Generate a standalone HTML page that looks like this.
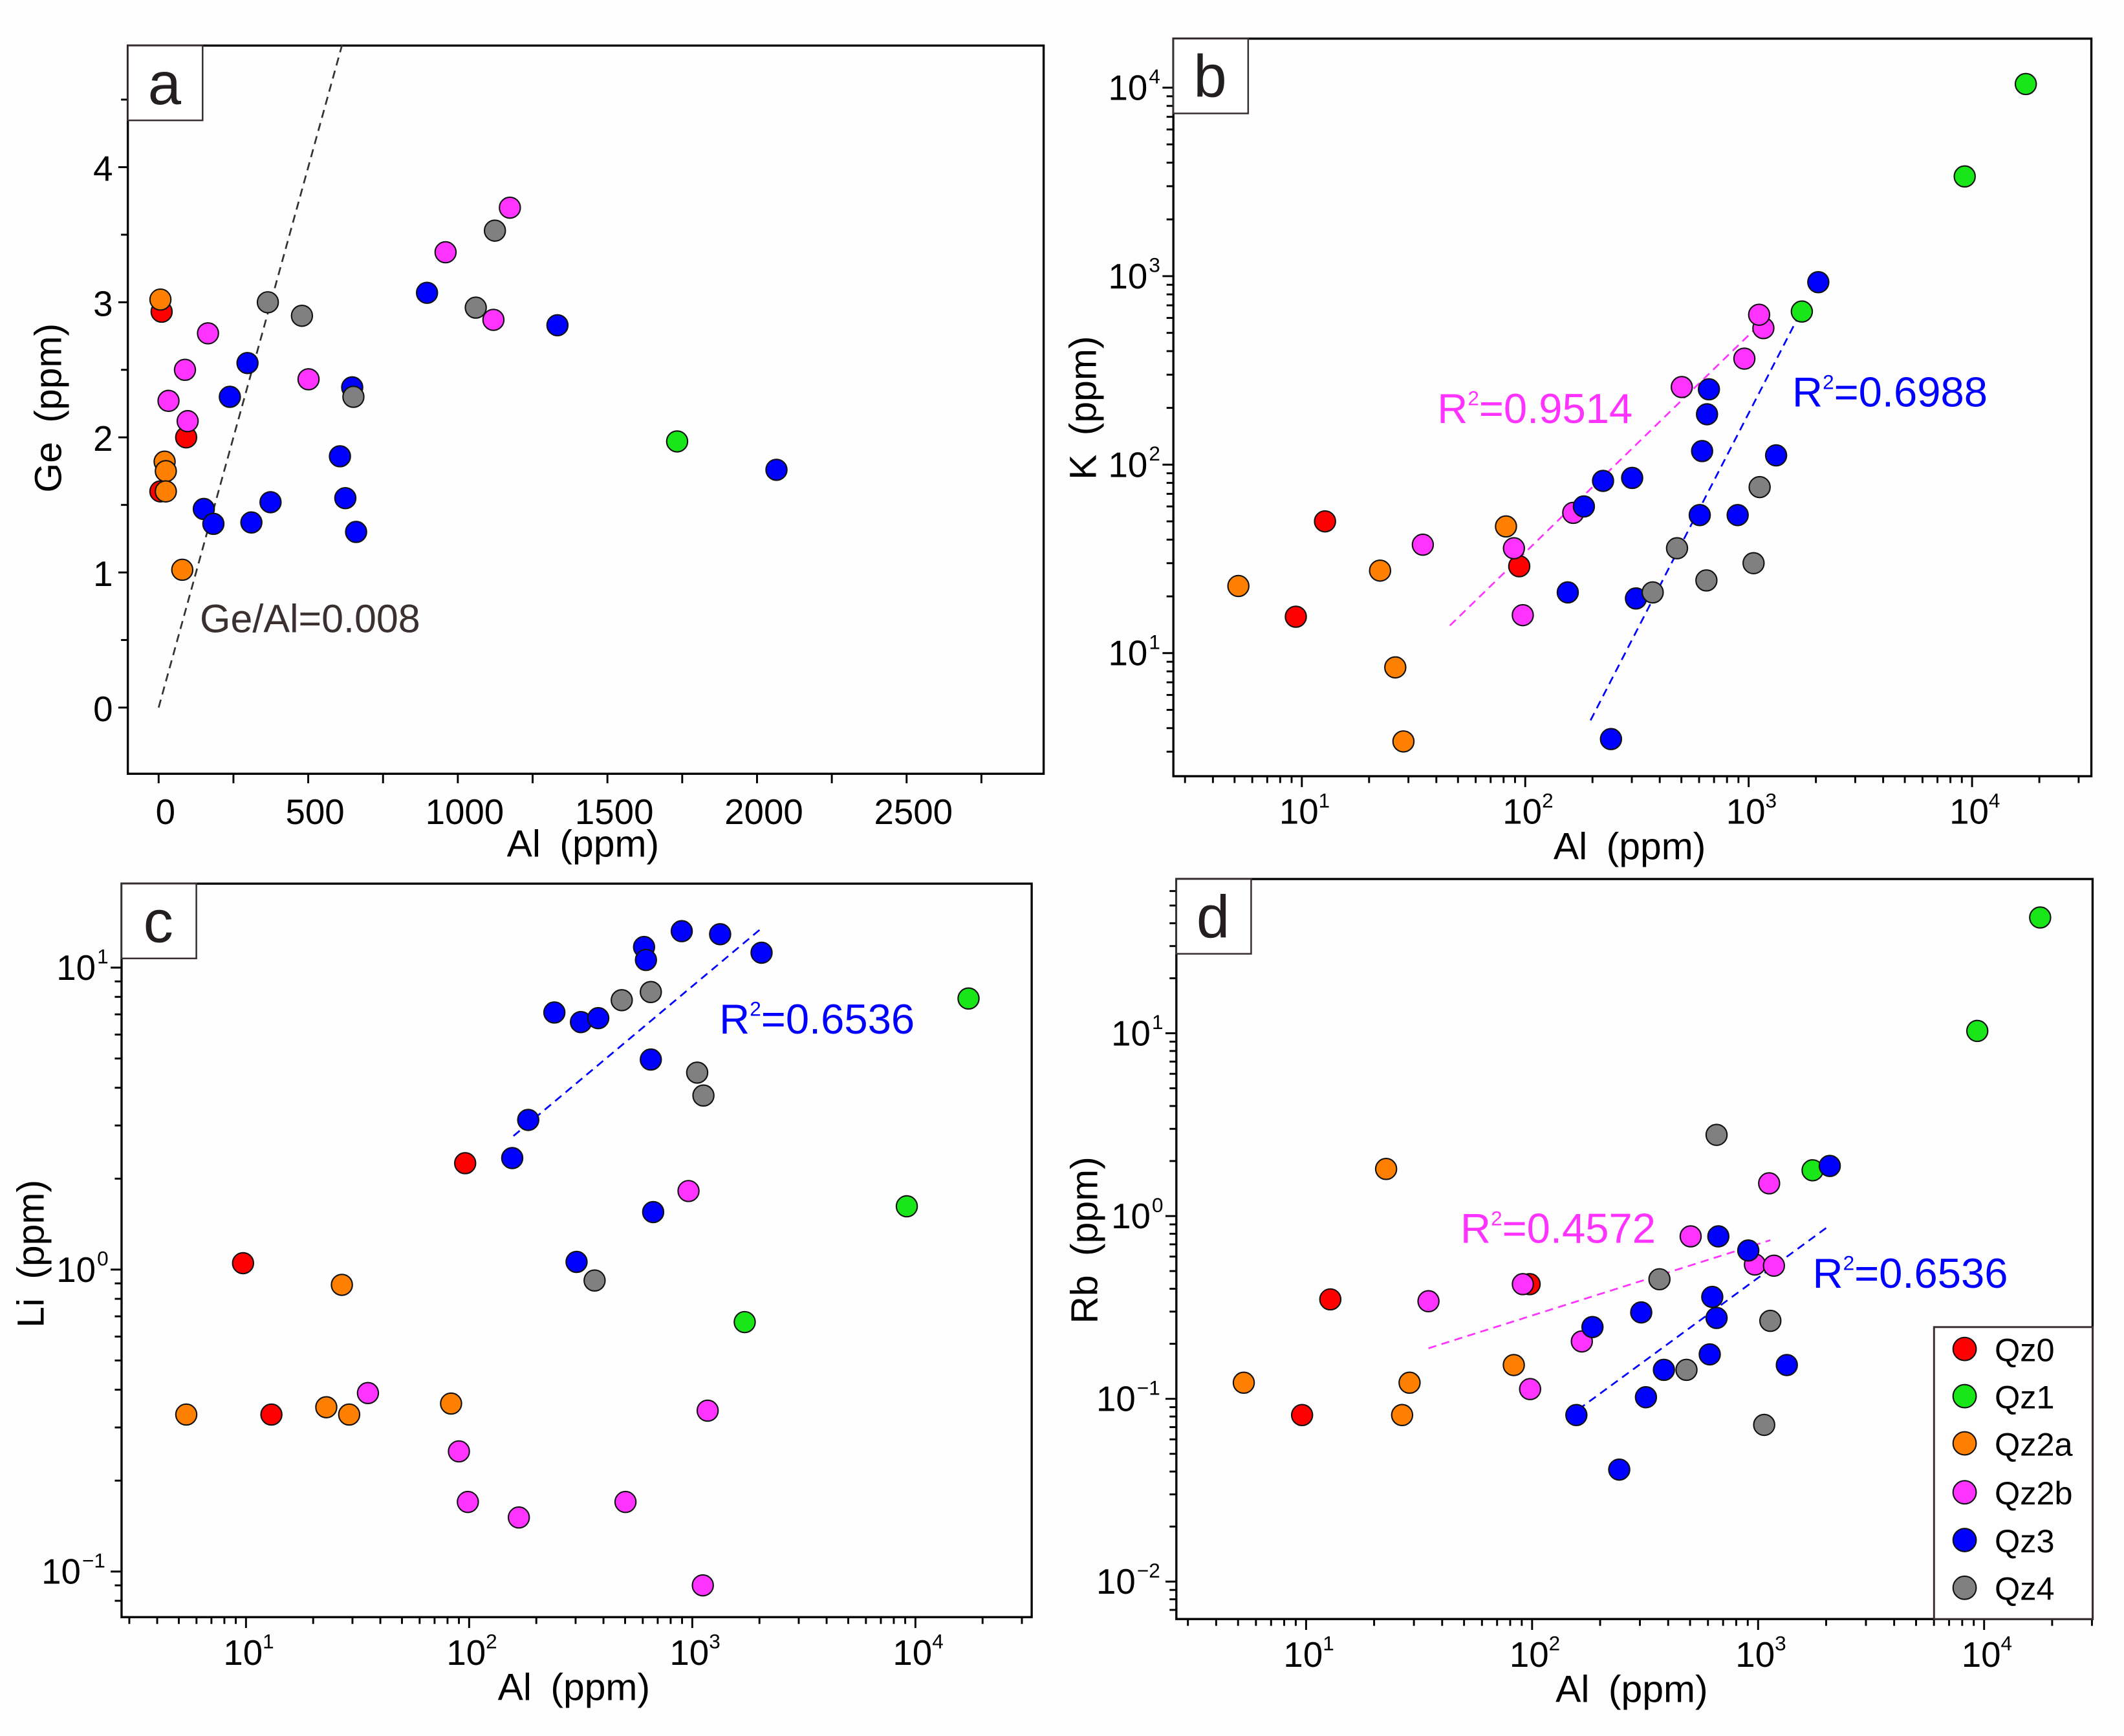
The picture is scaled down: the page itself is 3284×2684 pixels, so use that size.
<!DOCTYPE html>
<html><head><meta charset="utf-8"><style>
html,body{margin:0;padding:0;background:#fff;}
svg{display:block;}
text{font-family:"Liberation Sans",Arial,sans-serif;}
</style></head><body>
<svg id="fig" xmlns="http://www.w3.org/2000/svg" width="3284" height="2684" viewBox="0 0 1562 1276.6">
<rect x="0" y="0" width="1562" height="1276.6" fill="#fefefe"/>
</svg>
<script>
// ---------- data ----------
const groups = ["Qz0","Qz1","Qz2a","Qz2b","Qz3","Qz4"];
const groupColors = ["#ff0000","#19e619","#ff8000","#ff33ff","#0000ff","#808080"];

// Panel a: Al vs Ge (linear)
const aAl = {Qz0:[10,92,6], Qz1:[1733], Qz2a:[6,20,24,24,79],
  Qz2b:[165,88,33,97,501,959,1174,1119],
  Qz3:[297,238,151,183,310,374,606,624,660,647,897,1333,2065],
  Qz4:[365,479,651,1060,1124]};
const aGe = {Qz0:[2.93,2.0,1.6], Qz1:[1.97], Qz2a:[3.02,1.82,1.75,1.6,1.02],
  Qz2b:[2.77,2.5,2.27,2.12,2.43,3.37,3.7,2.87],
  Qz3:[2.55,2.3,1.47,1.36,1.37,1.52,1.86,1.55,1.3,2.37,3.07,2.83,1.76],
  Qz4:[3.0,2.9,2.3,2.96,3.53]};

// Panel b: Al vs K (log)
const bAl = {Qz0:[12.7,9.4,94], Qz1:[1730,9270,17400], Qz2a:[5.2,22.4,82,26.2,28.5],
  Qz2b:[34.8,89,97.5,164,502,957,1164,1114],
  Qz3:[155,183,223,301,313,242,604,619,651,664,893,1327,2050],
  Qz4:[372,478,647,1052,1120]};
const bK = {Qz0:[50,15.6,28.9], Qz1:[649,3380,10450], Qz2a:[22.7,27.4,47,8.4,3.4],
  Qz2b:[37.6,36,15.9,55.5,258,365,530,624],
  Qz3:[21,60,82,85,19.5,3.5,54,118,185,251,54,112,929],
  Qz4:[21,36,24.3,30,76]};

// Panel c: Al vs Li (log)
const cAl = {Qz0:[96,9.7,13], Qz1:[1718,9150,17300], Qz2a:[5.4,22.9,29,26.9,83],
  Qz2b:[35.2,90,98.7,167,502,962,1172,1115],
  Qz3:[241,317,379,608,620,897,1333,2044,652,184,156,668,303],
  Qz4:[483,652,1052,1122,365]};
const cLi = {Qz0:[2.25,1.05,0.331], Qz1:[0.67,1.62,7.9], Qz2a:[0.331,0.35,0.331,0.89,0.36],
  Qz2b:[0.39,0.25,0.17,0.151,0.17,1.82,0.341,0.09],
  Qz3:[7.1,6.6,6.8,11.7,10.6,13.2,12.9,11.2,4.96,3.13,2.34,1.55,1.06],
  Qz4:[7.8,8.3,4.49,3.77,0.92]};

// Panel d: Al vs Rb (log)
const dAl = {Qz0:[97.5,12.8,9.6], Qz1:[17700,9330,1742], Qz2a:[22.6,5.3,28.7,83,26.6],
  Qz2b:[1119,503,968,1175,91,34.8,166,98],
  Qz3:[2075,667,905,627,655,304,185,611,383,1340,319,157,243],
  Qz4:[655,366,1133,482,1064]};
const dRb = {Qz0:[0.424,0.35,0.0815], Qz1:[43,10.3,1.78], Qz2a:[1.81,0.1225,0.1225,0.153,0.0815],
  Qz2b:[1.51,0.774,0.543,0.535,0.424,0.342,0.206,0.113],
  Qz3:[1.88,0.774,0.648,0.361,0.277,0.297,0.247,0.175,0.144,0.153,0.102,0.0815,0.041],
  Qz4:[2.78,0.451,0.267,0.144,0.072]};

// Fit lines [x1,y1,x2,y2]
const aRefLine = [0,0,615,4.92];
const bFitMagenta = [46,14,1135,562];
const bFitBlue = [196,4.4,1766,693];
const cFitBlue = [158,2.77,2044,13.5];
const dFitMagenta = [34.8,0.189,1133,0.738];
const dFitBlue = [160,0.0873,2089,0.895];

const aXTicks = [0,500,1000,1500,2000,2500];
const aYTicks = [0,1,2,3,4];

// ---------- drawing helpers ----------
const NS = "http://www.w3.org/2000/svg";
const svg = document.getElementById("fig");
function mk(tag, attrs, parent){
  const e = document.createElementNS(NS, tag);
  for (const k in attrs) e.setAttribute(k, attrs[k]);
  (parent||svg).appendChild(e);
  return e;
}
function makePanel(p){
  const g = mk("g", {});
  
  
  const xs = v => { const t = p.xlog ? Math.log10(v) : v; return p.L + (t - p.x0)/(p.x1 - p.x0)*(p.R - p.L); };
  const ys = v => { const t = p.ylog ? Math.log10(v) : v; return p.B - (t - p.y0)/(p.y1 - p.y0)*(p.B - p.T); };
  p.xs = xs; p.ys = ys; p.g = g;
  const frame = mk("rect", {x:p.L, y:p.T, width:p.R-p.L, height:p.B-p.T, fill:"none", stroke:"#000", "stroke-width":1.6}, g);
  
  
  const axg = mk("g", {}, g);
  
  
  // x ticks
  if (p.xlog){
    for (let k = Math.floor(p.x0); k <= Math.ceil(p.x1); k++){
      for (let m = 1; m <= 9; m++){
        const lv = k + Math.log10(m);
        if (lv < p.x0 || lv > p.x1) continue;
        const x = xs(Math.pow(10, lv));
        mk("line", {x1:x, x2:x, y1:p.B, y2:p.B + (m===1?8:5), stroke:"#000", "stroke-width":1.4}, axg);
        if (m===1){
          const t = mk("text", {x:x+2, y:p.B+35, "font-size":26, "text-anchor":"middle"}, axg);
          
          
          t.textContent = "10";
          const s = mk("tspan", {dy:-12, "font-size":15}, t); s.textContent = String(k);
        }
      }
    }
  } else {
    for (let v = 0; v <= p.x1; v += 250){
      const x = xs(v);
      mk("line", {x1:x, x2:x, y1:p.B, y2:p.B + 7, stroke:"#000", "stroke-width":1.4}, axg);
    }
    aXTicks.forEach(v => {
      const t = mk("text", {x:xs(v)+5, y:p.B+37, "font-size":26, "text-anchor":"middle"}, axg);
      
      
      t.textContent = String(v);
    });
  }
  // y ticks
  if (p.ylog){
    for (let k = Math.floor(p.y0); k <= Math.ceil(p.y1); k++){
      for (let m = 1; m <= 9; m++){
        const lv = k + Math.log10(m);
        if (lv < p.y0 || lv > p.y1) continue;
        const y = ys(Math.pow(10, lv));
        mk("line", {x1:p.L, x2:p.L - (m===1?8:5), y1:y, y2:y, stroke:"#000", "stroke-width":1.4}, axg);
        if (m===1){
          const supW = k<0 ? 20 : 9;
          const t = mk("text", {x:p.L-10-supW, y:y+9, "font-size":26, "text-anchor":"end"}, axg);
          
          
          t.textContent = "10";
          const s = mk("tspan", {x:p.L-9-supW, dy:-12, "font-size":15, "text-anchor":"start"}, t); s.textContent = k<0 ? "\u2212"+(-k) : String(k);
        }
      }
    }
  } else {
    for (let v = 0; v <= p.y1; v += 0.5){
      const y = ys(v);
      mk("line", {x1:p.L, x2:p.L - (v%1===0?7:5), y1:y, y2:y, stroke:"#000", "stroke-width":1.4}, axg);
    }
    aYTicks.forEach(v => {
      const t = mk("text", {x:p.L-11, y:ys(v)+10, "font-size":26, "text-anchor":"end"}, axg);
      
      
      t.textContent = String(v);
    });
  }
  // titles
  const xt = mk("text", {x:(p.L+p.R)/2 - 2, y:p.B+61, "font-size":28, "text-anchor":"middle"}, g);
  
  
  xt.textContent = "Al\u2002(ppm)";
  const yt = mk("text", {x:0, y:0, "font-size":28, "text-anchor":"middle", transform:`translate(${p.yTitleX},${p.yTitleY}) rotate(-90)`}, g);
  
  
  yt.textContent = p.ytitle + "\u2002(ppm)";
  // panel letter
  const lb = mk("rect", {x:p.L, y:p.T, width:55, height:55, fill:"#fff", stroke:"#3a3030", "stroke-width":1.2}, g);
  
  
  const lt = mk("text", {x:p.L+27, y:p.T+43, "font-size":44, "text-anchor":"middle", fill:"#231f20"}, g);
  
  
  lt.textContent = p.id;
  return p;
}
function line(p, arr, color, name, dash){
  const l = mk("line", {x1:p.xs(arr[0]), y1:p.ys(arr[1]), x2:p.xs(arr[2]), y2:p.ys(arr[3]), stroke:color, "stroke-width":1.3, "stroke-dasharray":dash||"6,4"}, p.g);
  
  
}
function label(p, x, y, txt, val, color, name, size){
  const t = mk("text", {x:x, y:y, "font-size":size||31, fill:color}, p.g);
  
  
  t.textContent = txt;
  if (val !== null){
    const s = mk("tspan", {dy:-13, "font-size":15}, t); s.textContent = "2";
    const s2 = mk("tspan", {dy:13}, t); s2.textContent = val;
  }
}
function points(p, X, Y){
  groups.forEach((gname, gi) => {
    const gg = mk("g", {}, p.g);
    
    
    X[gname].forEach((xv, i) => {
      const c = mk("circle", {cx:p.xs(xv), cy:p.ys(Y[gname][i]), r:7.7, fill:groupColors[gi], stroke:"#111", "stroke-width":1}, gg);
      
      
    });
  });
}

// ---------- panels ----------
const pa = makePanel({id:"a", L:94, T:33.5, R:767.5, B:569, xlog:false, x0:-103, x1:2958, ylog:false, y0:-0.49, y1:4.9, ytitle:"Ge", yTitleX:45, yTitleY:300});
line(pa, aRefLine, "#333", "ge-al-reference-line", "6,4");
label(pa, 147, 465, "Ge/Al=0.008", null, "#3a3030", "ge-al-ratio-label", 29);
points(pa, aAl, aGe);

const pb = makePanel({id:"b", L:862.9, T:28.4, R:1538, B:570.8, xlog:true, x0:0.425, x1:4.534, ylog:true, y0:0.347, y1:4.26, ytitle:"K", yTitleX:806, yTitleY:300});
line(pb, bFitMagenta, "#ff33ff", "fit-line-qz2b-b");
line(pb, bFitBlue, "#0000ff", "fit-line-qz3-b");
points(pb, bAl, bK);
label(pb, 1057, 311, "R", "=0.9514", "#ff33ff", "r2-label-qz2b-b");
label(pb, 1318, 299, "R", "=0.6988", "#0000ff", "r2-label-qz3-b");

const pc = makePanel({id:"c", L:89.4, T:649.8, R:758.7, B:1189.2, xlog:true, x0:0.4424, x1:4.521, ylog:true, y0:-1.151, y1:1.278, ytitle:"Li", yTitleX:32, yTitleY:922});
line(pc, cFitBlue, "#0000ff", "fit-line-qz3-c");
points(pc, cAl, cLi);
label(pc, 529, 760, "R", "=0.6536", "#0000ff", "r2-label-qz3-c");

const pd = makePanel({id:"d", L:865.1, T:646.4, R:1538.9, B:1190.6, xlog:true, x0:0.426, x1:4.48, ylog:true, y0:-2.205, y1:1.844, ytitle:"Rb", yTitleX:807, yTitleY:912});
line(pd, dFitMagenta, "#ff33ff", "fit-line-qz2b-d");
line(pd, dFitBlue, "#0000ff", "fit-line-qz3-d");
points(pd, dAl, dRb);
label(pd, 1074, 914, "R", "=0.4572", "#ff33ff", "r2-label-qz2b-d");
label(pd, 1333, 947, "R", "=0.6536", "#0000ff", "r2-label-qz3-d");

// legend
const lg = mk("g", {});


mk("rect", {x:1422.3, y:975.9, width:116.6, height:214.7, fill:"#fff", stroke:"#3a3030", "stroke-width":1.4}, lg);
const legendY = [992, 1026.7, 1061.4, 1097.4, 1132.5, 1167.6];
groups.forEach((gname, i) => {
  const e = mk("g", {}, lg);
  
  
  mk("circle", {cx:1444.8, cy:legendY[i], r:8.5, fill:groupColors[i], stroke:"#111", "stroke-width":1}, e);
  const t = mk("text", {x:1466.9, y:legendY[i]+9, "font-size":24}, e);
  t.textContent = gname;
});
</script>
</body></html>
